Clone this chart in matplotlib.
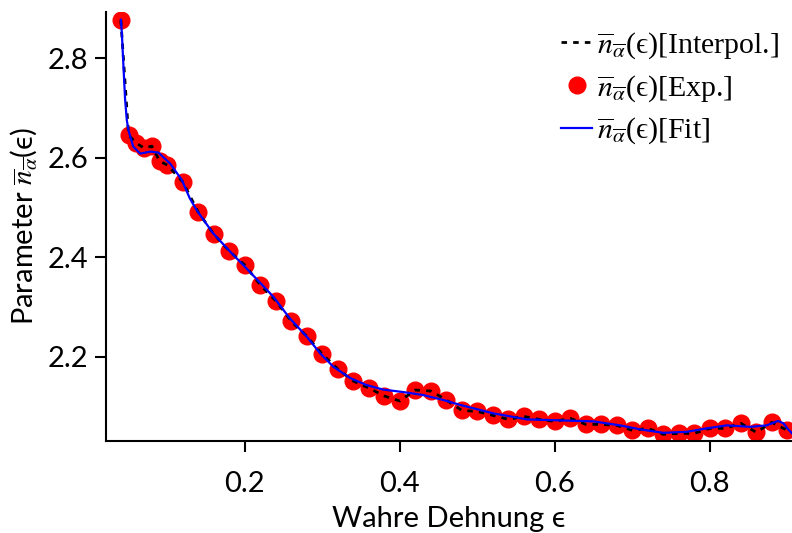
import numpy as np
import matplotlib
matplotlib.use("Agg")
import matplotlib.pyplot as plt

plt.rcParams['mathtext.fontset'] = 'stix'

eps_exp = [0.04, 0.05, 0.06, 0.07, 0.08, 0.09, 0.10, 0.12, 0.14, 0.16, 0.18, 0.20,
           0.22, 0.24, 0.26, 0.28, 0.30, 0.32, 0.34, 0.36, 0.38, 0.40, 0.42, 0.44,
           0.46, 0.48, 0.50, 0.52, 0.54, 0.56, 0.58, 0.60, 0.62, 0.64, 0.66, 0.68,
           0.70, 0.72, 0.74, 0.76, 0.78, 0.80, 0.82, 0.84, 0.86, 0.88, 0.90]
n_exp = [2.876, 2.645, 2.629, 2.619, 2.623, 2.593, 2.585, 2.551, 2.490, 2.446, 2.412, 2.384,
         2.344, 2.312, 2.271, 2.241, 2.205, 2.175, 2.151, 2.137, 2.121, 2.111, 2.133, 2.131,
         2.113, 2.092, 2.090, 2.082, 2.074, 2.080, 2.074, 2.070, 2.076, 2.064, 2.064, 2.062,
         2.052, 2.056, 2.044, 2.046, 2.046, 2.056, 2.056, 2.066, 2.048, 2.068, 2.052]

# fit curve
eps_fit = [0.040, 0.0413, 0.0434, 0.0455, 0.0477, 0.0498, 0.056, 0.065, 0.078, 0.0885,
           0.1036, 0.1187, 0.129, 0.138, 0.159, 0.181, 0.198, 0.22, 0.237, 0.258, 0.28,
           0.297, 0.314, 0.336, 0.357, 0.378, 0.404, 0.43, 0.456, 0.478, 0.521, 0.564,
           0.607, 0.65, 0.684, 0.71, 0.74, 0.77, 0.796, 0.822, 0.852, 0.8735, 0.888,
           0.895, 0.901, 0.906]
n_fit = [2.877, 2.850, 2.782, 2.716, 2.675, 2.655, 2.622, 2.608, 2.612, 2.610,
         2.588, 2.555, 2.518, 2.494, 2.448, 2.411, 2.384, 2.348, 2.320, 2.277, 2.240,
         2.207, 2.180, 2.157, 2.143, 2.134, 2.129, 2.123, 2.113, 2.103, 2.086, 2.074,
         2.072, 2.070, 2.062, 2.054, 2.047, 2.049, 2.056, 2.062, 2.059, 2.062, 2.071,
         2.066, 2.054, 2.046]

nbar = r'$\overline{n}_{\overline{\alpha}}$'

fig = plt.figure(figsize=(7.92, 5.33), dpi=100)
ax = fig.add_axes([0.134, 0.173, 0.866, 0.804])

ax.plot(eps_exp, n_exp, 'o', color='#ff0000', markersize=12, zorder=1,
        label=nbar + '(ϵ)[Exp.]')
ax.plot(eps_exp, n_exp, color='black', lw=2, dashes=(2, 2.2), zorder=2,
        label=nbar + '(ϵ)[Interpol.]')
ax.plot(eps_fit, n_fit, color='#0000ff', lw=1.6, zorder=3,
        label=nbar + '(ϵ)[Fit]')

ax.set_xlim(0.021, 0.906)
ax.set_ylim(2.031, 2.892)
ax.set_xticks([0.2, 0.4, 0.6, 0.8])
ax.set_yticks([2.2, 2.4, 2.6, 2.8])
ax.set_xticklabels(['0.2', '0.4', '0.6', '0.8'])
ax.set_yticklabels(['2.2', '2.4', '2.6', '2.8'])

for s in ['top', 'right']:
    ax.spines[s].set_visible(False)
for s in ['left', 'bottom']:
    ax.spines[s].set_linewidth(1.5)
ax.tick_params(direction='out', length=8, width=1.5, labelsize=21, pad=5)
ax.tick_params(axis='x', pad=14)
for lab in ax.get_xticklabels() + ax.get_yticklabels():
    lab.set_family('Lato')

ax.set_xlabel('Wahre Dehnung ϵ', fontsize=21, family='Lato', labelpad=6)
ax.set_ylabel('Parameter ' + nbar + '(ϵ)', fontsize=21,
              family=['Lato', 'DejaVu Sans'])
ax.yaxis.set_label_coords(-0.098, 0.5)

h, l = ax.get_legend_handles_labels()
order = [1, 0, 2]
ax.legend([h[i] for i in order], [l[i] for i in order], loc='upper right',
          bbox_to_anchor=(1.02, 1.02), frameon=False, handlelength=1.05,
          handletextpad=0.15, labelspacing=0.4,
          prop={'family': ['Liberation Serif', 'DejaVu Serif'], 'size': 21.5})

fig.savefig('out.png', dpi=100)
